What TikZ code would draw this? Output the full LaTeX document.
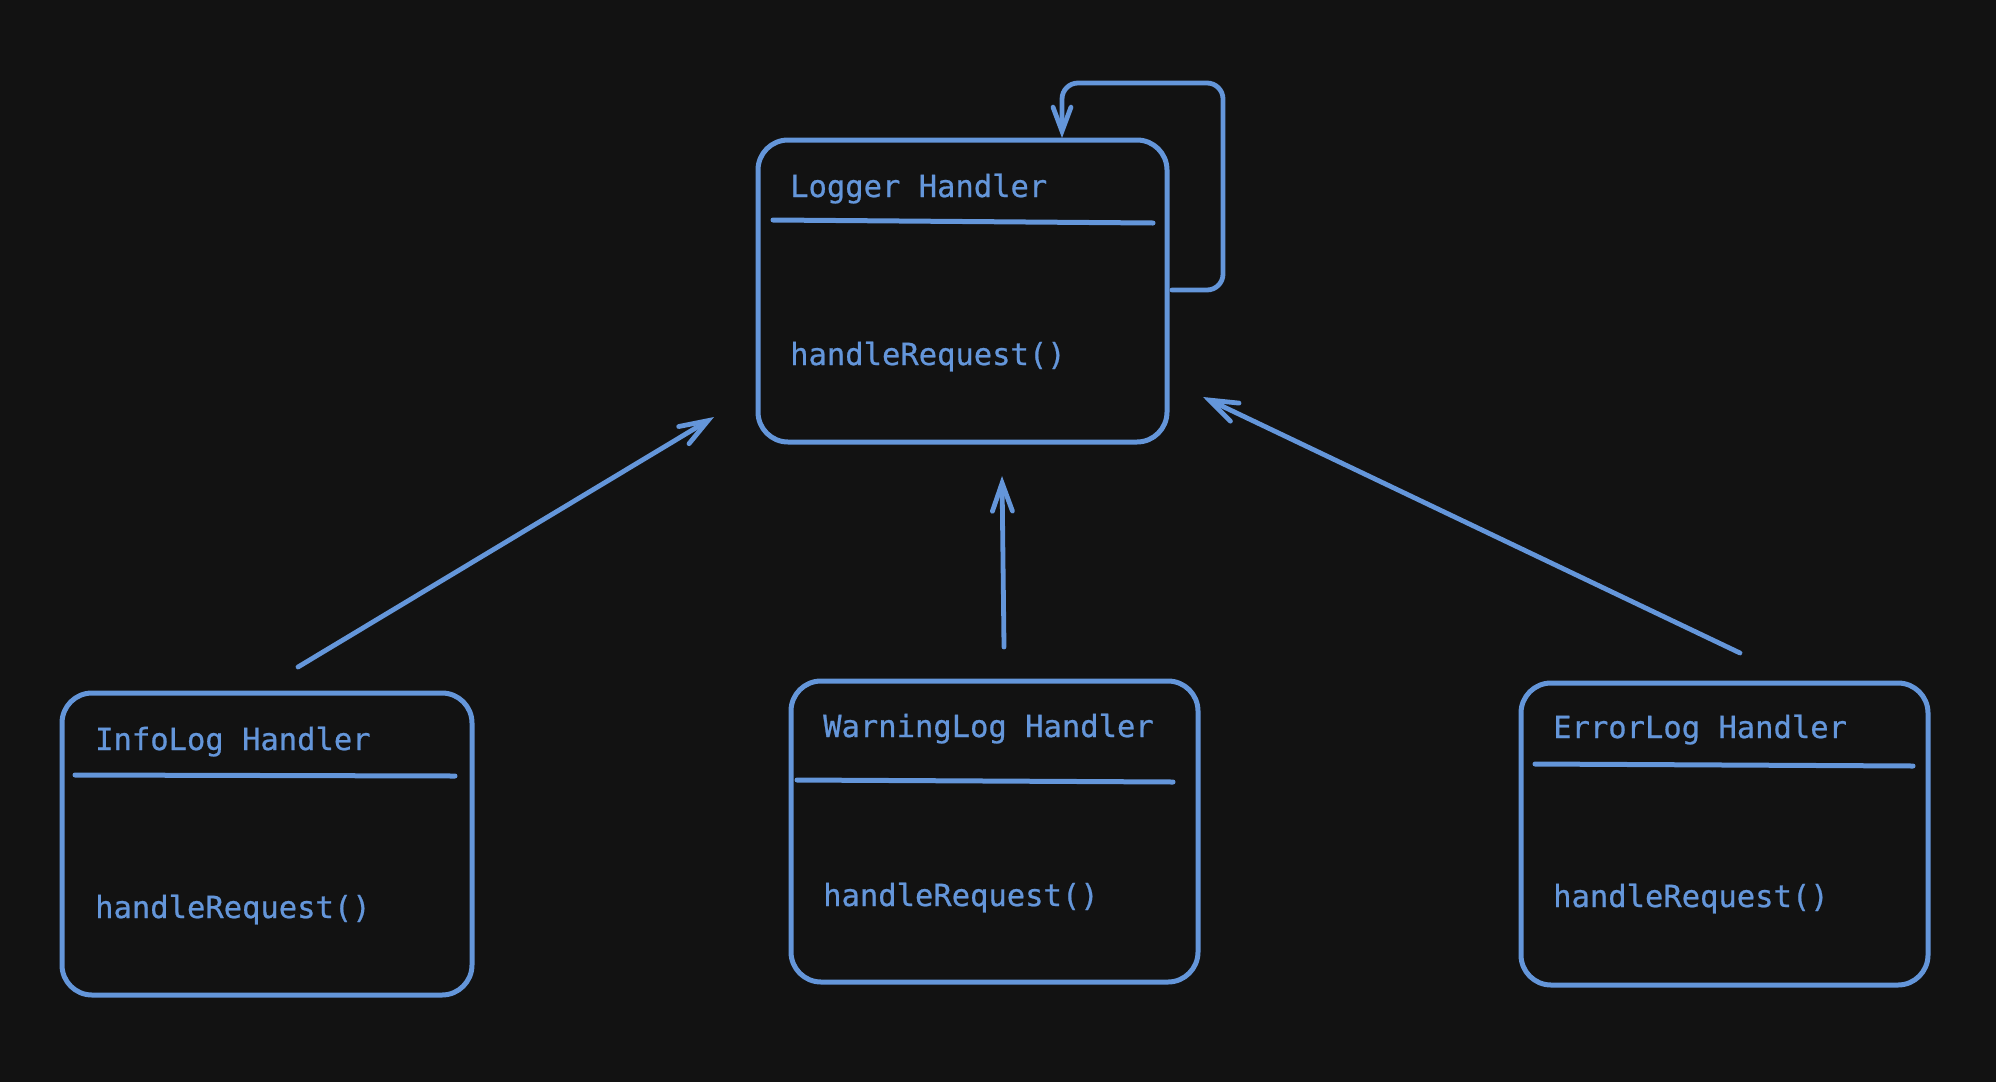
\documentclass[tikz,border=0pt]{standalone}
\usepackage{fontspec}
\newfontfamily\handfont[FakeBold=0.7]{DejaVu Sans Mono}
\usetikzlibrary{arrows.meta}
\definecolor{bg}{HTML}{121212}
\definecolor{ink}{RGB}{100,150,218}
\tikzset{
  umlbox/.style={draw=ink, line width=5pt, rounded corners=30pt, inner sep=0pt, rectangle},
  divider/.style={draw=ink, line width=5pt, line cap=round},
  lbl/.style={text=ink, anchor=base west, inner sep=0pt, font=\handfont\fontsize{30.5}{36}\selectfont},
  conn/.style={draw=ink, line width=4.8pt, line cap=round, line join=round,
    -{Straight Barb[length=28pt,width=20pt,line cap=round]}},
}
\begin{document}
\begin{tikzpicture}[x=1pt,y=-1pt]
\path[fill=bg] (0,0) rectangle (1996,1082);
\useasboundingbox (0,0) rectangle (1996,1082);

% boxes
\node[umlbox, minimum width=409pt, minimum height=302pt] (logger) at (962.5,291) {};
\node[umlbox, minimum width=410pt, minimum height=302pt] (info) at (267,844) {};
\node[umlbox, minimum width=407pt, minimum height=301pt] (warn) at (994.5,831.5) {};
\node[umlbox, minimum width=407pt, minimum height=302pt] (err) at (1724.5,834) {};

% titles and methods
\node[lbl] (loggerT) at (790,197) {Logger Handler};
\node[lbl] (loggerM) at (790,365) {handleRequest()};
\node[lbl] (infoT) at (95,750) {InfoLog Handler};
\node[lbl] (infoM) at (95,918) {handleRequest()};
\node[lbl] (warnT) at (823,737) {WarningLog Handler};
\node[lbl] (warnM) at (823,906) {handleRequest()};
\node[lbl] (errT) at (1553,738) {ErrorLog Handler};
\node[lbl] (errM) at (1553,907) {handleRequest()};

% dividers
\coordinate (ld1) at (773,220); \coordinate (ld2) at (1153,223);
\coordinate (id1) at (75,775); \coordinate (id2) at (455,776);
\coordinate (wd1) at (797,780); \coordinate (wd2) at (1173,782);
\coordinate (ed1) at (1535,764); \coordinate (ed2) at (1913,766);
\draw[divider] (ld1) -- (ld2);
\draw[divider] (id1) -- (id2);
\draw[divider] (wd1) -- (wd2);
\draw[divider] (ed1) -- (ed2);

% connectors
\coordinate (iS) at (298,667); \coordinate (iE) at (714,417);
\coordinate (wS) at (1004,647); \coordinate (wE) at (1002,476);
\coordinate (eS) at (1740,653); \coordinate (eE) at (1203,397);
\draw[conn] (iS) -- (iE);
\draw[conn] (wS) -- (wE);
\draw[conn] (eS) -- (eE);

% self loop
\coordinate (sS) at (1172,290);
\coordinate (sE) at (1062,138);
\draw[conn, rounded corners=16pt, -{Straight Barb[length=24pt,width=18pt,line cap=round]}]
  (sS) -- (1223,290) -- (1223,83) -- (1062,83) -- (sE);
\end{tikzpicture}
\end{document}
